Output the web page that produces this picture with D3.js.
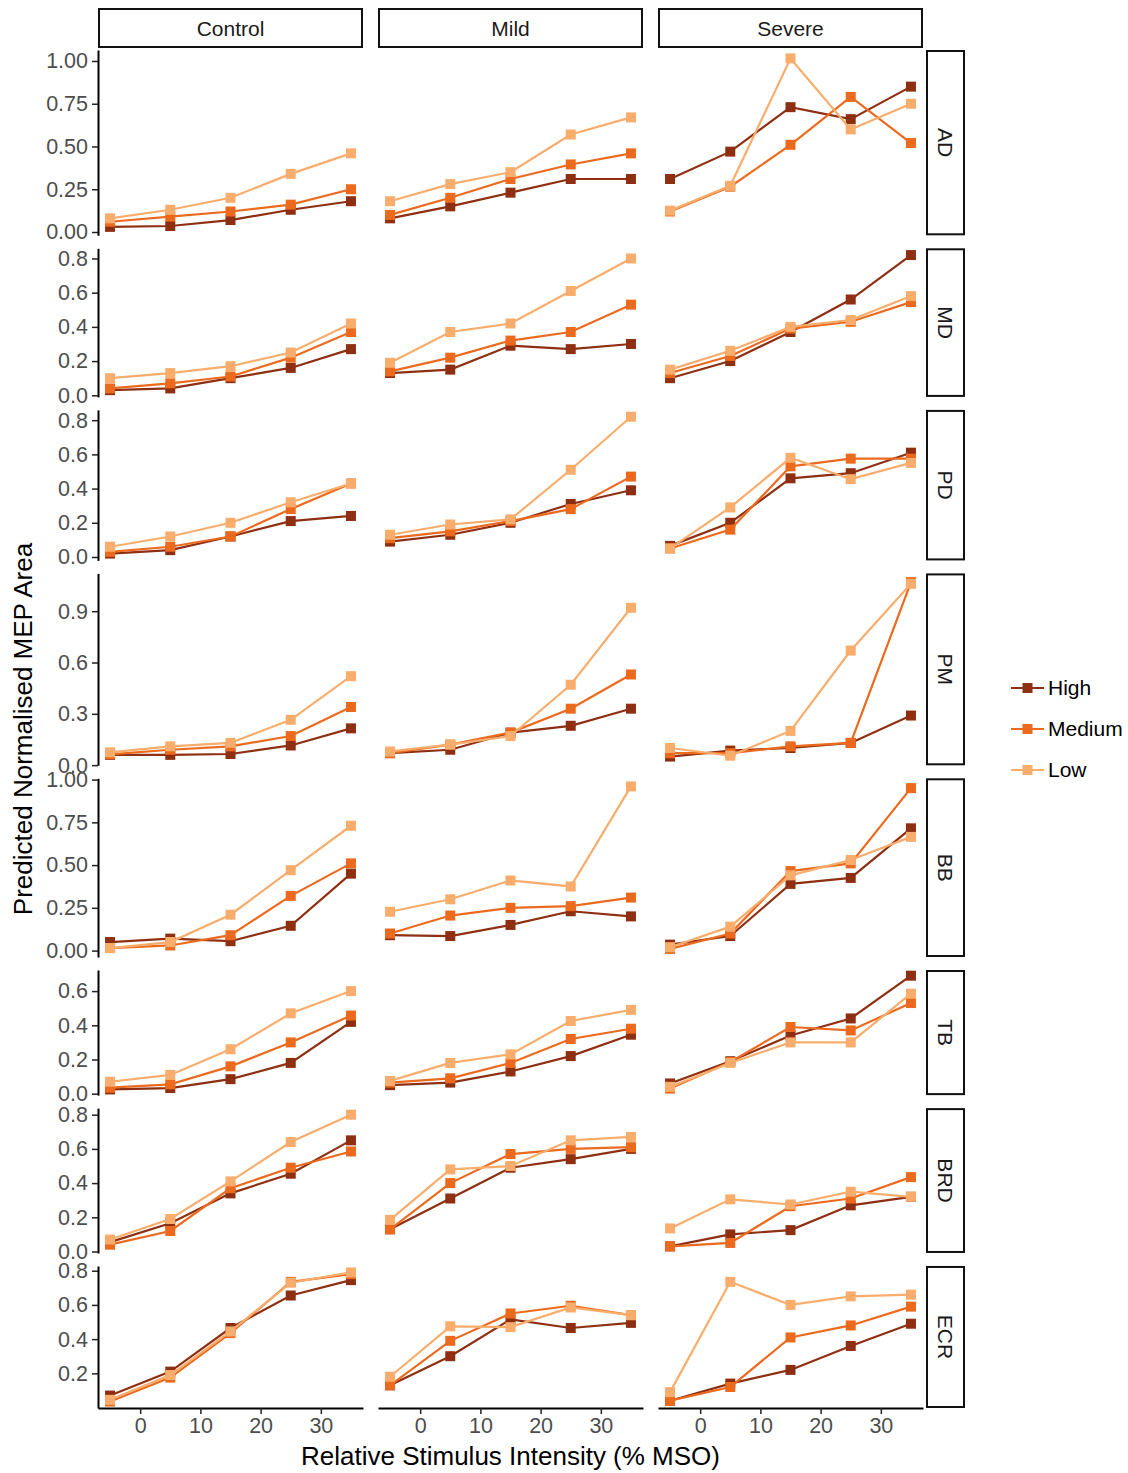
<!DOCTYPE html>
<html>
<head>
<meta charset="utf-8">
<script src="https://cdn.jsdelivr.net/npm/d3@7"></script>
<style>
  body { margin: 0; background: #fff; }
  text { font-family: "Liberation Sans", Arial, Helvetica, sans-serif; }
</style>
</head>
<body>
<svg id="chart" width="1128" height="1473"></svg>
<script>
// x values, facets and series
var intensities = [-5, 5, 15, 25, 35];
var groups = ["Control", "Mild", "Severe"];
var muscles = ["AD", "MD", "PD", "PM", "BB", "TB", "BRD", "ECR"];
var levels = ["High", "Medium", "Low"];
var xTicks = [0, 10, 20, 30];

// rows: Control High/Medium/Low, Mild High/Medium/Low, Severe High/Medium/Low
var AD = [
  [0.03, 0.035, 0.07, 0.13, 0.18],
  [0.06, 0.09, 0.12, 0.16, 0.25],
  [0.08, 0.13, 0.20, 0.34, 0.46],
  [0.08, 0.15, 0.23, 0.31, 0.31],
  [0.10, 0.20, 0.31, 0.395, 0.46],
  [0.18, 0.28, 0.35, 0.57, 0.67],
  [0.31, 0.47, 0.73, 0.66, 0.85],
  [0.12, 0.265, 0.51, 0.79, 0.52],
  [0.125, 0.27, 1.015, 0.60, 0.75]
];
var MD = [
  [0.03, 0.04, 0.10, 0.16, 0.27],
  [0.04, 0.07, 0.11, 0.22, 0.37],
  [0.10, 0.13, 0.17, 0.25, 0.42],
  [0.13, 0.15, 0.29, 0.27, 0.30],
  [0.14, 0.22, 0.32, 0.37, 0.53],
  [0.19, 0.37, 0.42, 0.61, 0.80],
  [0.10, 0.20, 0.37, 0.56, 0.82],
  [0.13, 0.23, 0.39, 0.43, 0.545],
  [0.15, 0.26, 0.40, 0.44, 0.58]
];
var PD = [
  [0.02, 0.04, 0.12, 0.21, 0.24],
  [0.03, 0.06, 0.12, 0.28, 0.43],
  [0.06, 0.12, 0.20, 0.32, 0.43],
  [0.09, 0.13, 0.20, 0.31, 0.39],
  [0.11, 0.15, 0.21, 0.28, 0.47],
  [0.13, 0.19, 0.22, 0.51, 0.82],
  [0.065, 0.20, 0.46, 0.49, 0.61],
  [0.05, 0.16, 0.53, 0.575, 0.575],
  [0.05, 0.29, 0.58, 0.455, 0.55]
];
var PM = [
  [0.06, 0.06, 0.065, 0.115, 0.215],
  [0.063, 0.09, 0.11, 0.17, 0.34],
  [0.075, 0.11, 0.13, 0.265, 0.52],
  [0.07, 0.09, 0.19, 0.23, 0.33],
  [0.07, 0.12, 0.19, 0.33, 0.53],
  [0.08, 0.12, 0.17, 0.47, 0.92],
  [0.05, 0.085, 0.10, 0.13, 0.29],
  [0.07, 0.07, 0.11, 0.13, 1.07],
  [0.10, 0.055, 0.20, 0.67, 1.06]
];
var BB = [
  [0.05, 0.07, 0.055, 0.145, 0.45],
  [0.015, 0.03, 0.09, 0.32, 0.51],
  [0.015, 0.05, 0.21, 0.47, 0.73],
  [0.09, 0.085, 0.15, 0.23, 0.20],
  [0.10, 0.205, 0.25, 0.26, 0.31],
  [0.227, 0.30, 0.41, 0.375, 0.96],
  [0.035, 0.085, 0.39, 0.425, 0.715],
  [0.01, 0.10, 0.465, 0.51, 0.95],
  [0.02, 0.14, 0.44, 0.53, 0.665]
];
var TB = [
  [0.025, 0.033, 0.085, 0.18, 0.42],
  [0.035, 0.055, 0.16, 0.30, 0.457],
  [0.07, 0.11, 0.26, 0.47, 0.60],
  [0.05, 0.065, 0.13, 0.22, 0.345],
  [0.065, 0.09, 0.18, 0.32, 0.38],
  [0.075, 0.18, 0.23, 0.425, 0.49],
  [0.06, 0.19, 0.34, 0.44, 0.69],
  [0.03, 0.185, 0.39, 0.37, 0.53],
  [0.04, 0.18, 0.30, 0.30, 0.585]
];
var BRD = [
  [0.055, 0.165, 0.34, 0.455, 0.65],
  [0.04, 0.12, 0.37, 0.49, 0.585],
  [0.07, 0.19, 0.41, 0.64, 0.80],
  [0.13, 0.31, 0.49, 0.54, 0.60],
  [0.13, 0.40, 0.57, 0.60, 0.61],
  [0.185, 0.48, 0.50, 0.65, 0.67],
  [0.03, 0.10, 0.125, 0.27, 0.32],
  [0.03, 0.05, 0.265, 0.31, 0.435],
  [0.135, 0.305, 0.275, 0.35, 0.32]
];
var ECR = [
  [0.07, 0.21, 0.465, 0.655, 0.745],
  [0.035, 0.175, 0.435, 0.735, 0.78],
  [0.045, 0.19, 0.445, 0.73, 0.79],
  [0.13, 0.30, 0.515, 0.465, 0.495],
  [0.13, 0.39, 0.55, 0.595, 0.54],
  [0.18, 0.475, 0.47, 0.585, 0.54],
  [0.04, 0.14, 0.22, 0.36, 0.49],
  [0.04, 0.12, 0.41, 0.48, 0.59],
  [0.09, 0.735, 0.60, 0.65, 0.66]
];
var muscleData = {AD: AD, MD: MD, PD: PD, PM: PM, BB: BB, TB: TB, BRD: BRD, ECR: ECR};

// y tick labels per row
var yTicks = {
  AD: [0, 0.25, 0.5, 0.75, 1],
  MD: [0, 0.2, 0.4, 0.6, 0.8],
  PD: [0, 0.2, 0.4, 0.6, 0.8],
  PM: [0, 0.3, 0.6, 0.9],
  BB: [0, 0.25, 0.5, 0.75, 1],
  TB: [0, 0.2, 0.4, 0.6],
  BRD: [0, 0.2, 0.4, 0.6, 0.8],
  ECR: [0.2, 0.4, 0.6, 0.8]
};
var twoDecimals = ["AD", "BB"];

var colors = {High: "#8e2f12", Medium: "#ec6a1e", Low: "#f9ad6c"};

// layout
var plotLeft = 98, plotTop = 50, plotBottom = 1408;
var colW = 265, colGap = 15, rowGap = 13;
var tickFont = "21.5px";

var svg = d3.select("#chart");
svg.append("rect").attr("width", 1128).attr("height", 1473).attr("fill", "#fff");

// free y scales, panel height proportional to range
var domains = muscles.map(function (m) {
  var all = d3.merge(muscleData[m]);
  var ext = d3.extent(all);
  var pad = (ext[1] - ext[0]) * 0.05;
  return [ext[0] - pad, ext[1] + pad];
});
var totalSpan = d3.sum(domains, function (d) { return d[1] - d[0]; });
var pxPerUnit = (plotBottom - plotTop - rowGap * (muscles.length - 1)) / totalSpan;

var x = d3.scaleLinear().domain([-7, 37]).range([0, colW]);

var line = d3.line()
  .x(function (d, i) { return x(intensities[i]); });

var rowTop = plotTop;
muscles.forEach(function (m, r) {
  var dom = domains[r];
  var h = (dom[1] - dom[0]) * pxPerUnit;
  var y = d3.scaleLinear().domain(dom).range([h, 0]);
  line.y(function (d) { return y(d); });

  groups.forEach(function (g, c) {
    var gx = plotLeft + c * (colW + colGap);
    var panel = svg.append("g").attr("transform", "translate(" + gx + "," + rowTop + ")");

    levels.forEach(function (lv, k) {
      var vals = muscleData[m][c * 3 + k];
      panel.append("path")
        .attr("d", line(vals))
        .attr("fill", "none")
        .attr("stroke", colors[lv])
        .attr("stroke-width", 2.2);
      panel.selectAll("rect.pt" + k)
        .data(vals)
        .enter()
        .append("rect")
        .attr("class", "pt" + k)
        .attr("x", function (d, i) { return x(intensities[i]) - 5; })
        .attr("y", function (d) { return y(d) - 5; })
        .attr("width", 10)
        .attr("height", 10)
        .attr("fill", colors[lv]);
    });

    if (c === 0) {
      var fmt = twoDecimals.indexOf(m) >= 0 ? d3.format(".2f") : d3.format(".1f");
      var ya = panel.append("g")
        .call(d3.axisLeft(y).tickValues(yTicks[m]).tickFormat(fmt).tickSize(6).tickSizeOuter(0).tickPadding(4));
      ya.select(".domain").attr("stroke", "#000").attr("stroke-width", 2);
      ya.selectAll(".tick line").attr("stroke", "#222").attr("stroke-width", 1.5);
      ya.selectAll(".tick text").attr("fill", "#4d4d4d").style("font-size", tickFont)
        .style("font-family", "'Liberation Sans', Arial, sans-serif");
    }

    if (r === muscles.length - 1) {
      var xa = panel.append("g")
        .attr("transform", "translate(0," + h + ")")
        .call(d3.axisBottom(x).tickValues(xTicks).tickSize(6).tickSizeOuter(0).tickPadding(4));
      xa.select(".domain").attr("stroke", "#000").attr("stroke-width", 2);
      xa.selectAll(".tick line").attr("stroke", "#222").attr("stroke-width", 1.5);
      xa.selectAll(".tick text").attr("fill", "#4d4d4d").style("font-size", tickFont)
        .style("font-family", "'Liberation Sans', Arial, sans-serif");
    }

    // column strips on top
    if (r === 0) {
      svg.append("rect")
        .attr("x", gx + 1).attr("y", 9)
        .attr("width", colW - 2).attr("height", 38)
        .attr("fill", "#fff").attr("stroke", "#111").attr("stroke-width", 2);
      svg.append("text")
        .attr("x", gx + colW / 2).attr("y", 35.5)
        .attr("text-anchor", "middle")
        .style("font-size", "21px")
        .attr("fill", "#1a1a1a")
        .text(g);
    }
  });

  // row strip on the right
  var sx = plotLeft + 3 * colW + 2 * colGap + 3;
  svg.append("rect")
    .attr("x", sx + 1).attr("y", rowTop + 1)
    .attr("width", 37).attr("height", h - 2)
    .attr("fill", "#fff").attr("stroke", "#111").attr("stroke-width", 2);
  svg.append("text")
    .attr("transform", "translate(" + (sx + 19.5) + "," + (rowTop + h / 2) + ") rotate(90)")
    .attr("text-anchor", "middle")
    .attr("dy", "0.35em")
    .style("font-size", "21px")
    .attr("fill", "#1a1a1a")
    .text(m);

  rowTop += h + rowGap;
});

// axis titles
svg.append("text")
  .attr("transform", "translate(32," + ((plotTop + plotBottom) / 2) + ") rotate(-90)")
  .attr("text-anchor", "middle")
  .style("font-size", "26px")
  .attr("fill", "#000")
  .text("Predicted Normalised MEP Area");

svg.append("text")
  .attr("x", plotLeft + (3 * colW + 2 * colGap) / 2)
  .attr("y", 1465)
  .attr("text-anchor", "middle")
  .style("font-size", "26px")
  .attr("fill", "#000")
  .text("Relative Stimulus Intensity (% MSO)");

// legend
var legend = svg.append("g").attr("transform", "translate(1011,688)");
levels.forEach(function (lv, i) {
  var row = legend.append("g").attr("transform", "translate(0," + (i * 41) + ")");
  row.append("line")
    .attr("x1", 0).attr("x2", 33).attr("y1", 0).attr("y2", 0)
    .attr("stroke", colors[lv]).attr("stroke-width", 2.2);
  row.append("rect")
    .attr("x", 11.5).attr("y", -5).attr("width", 10).attr("height", 10)
    .attr("fill", colors[lv]);
  row.append("text")
    .attr("x", 37).attr("y", 0).attr("dy", "0.35em")
    .style("font-size", "21px")
    .attr("fill", "#000")
    .text(lv);
});
</script>
</body>
</html>
